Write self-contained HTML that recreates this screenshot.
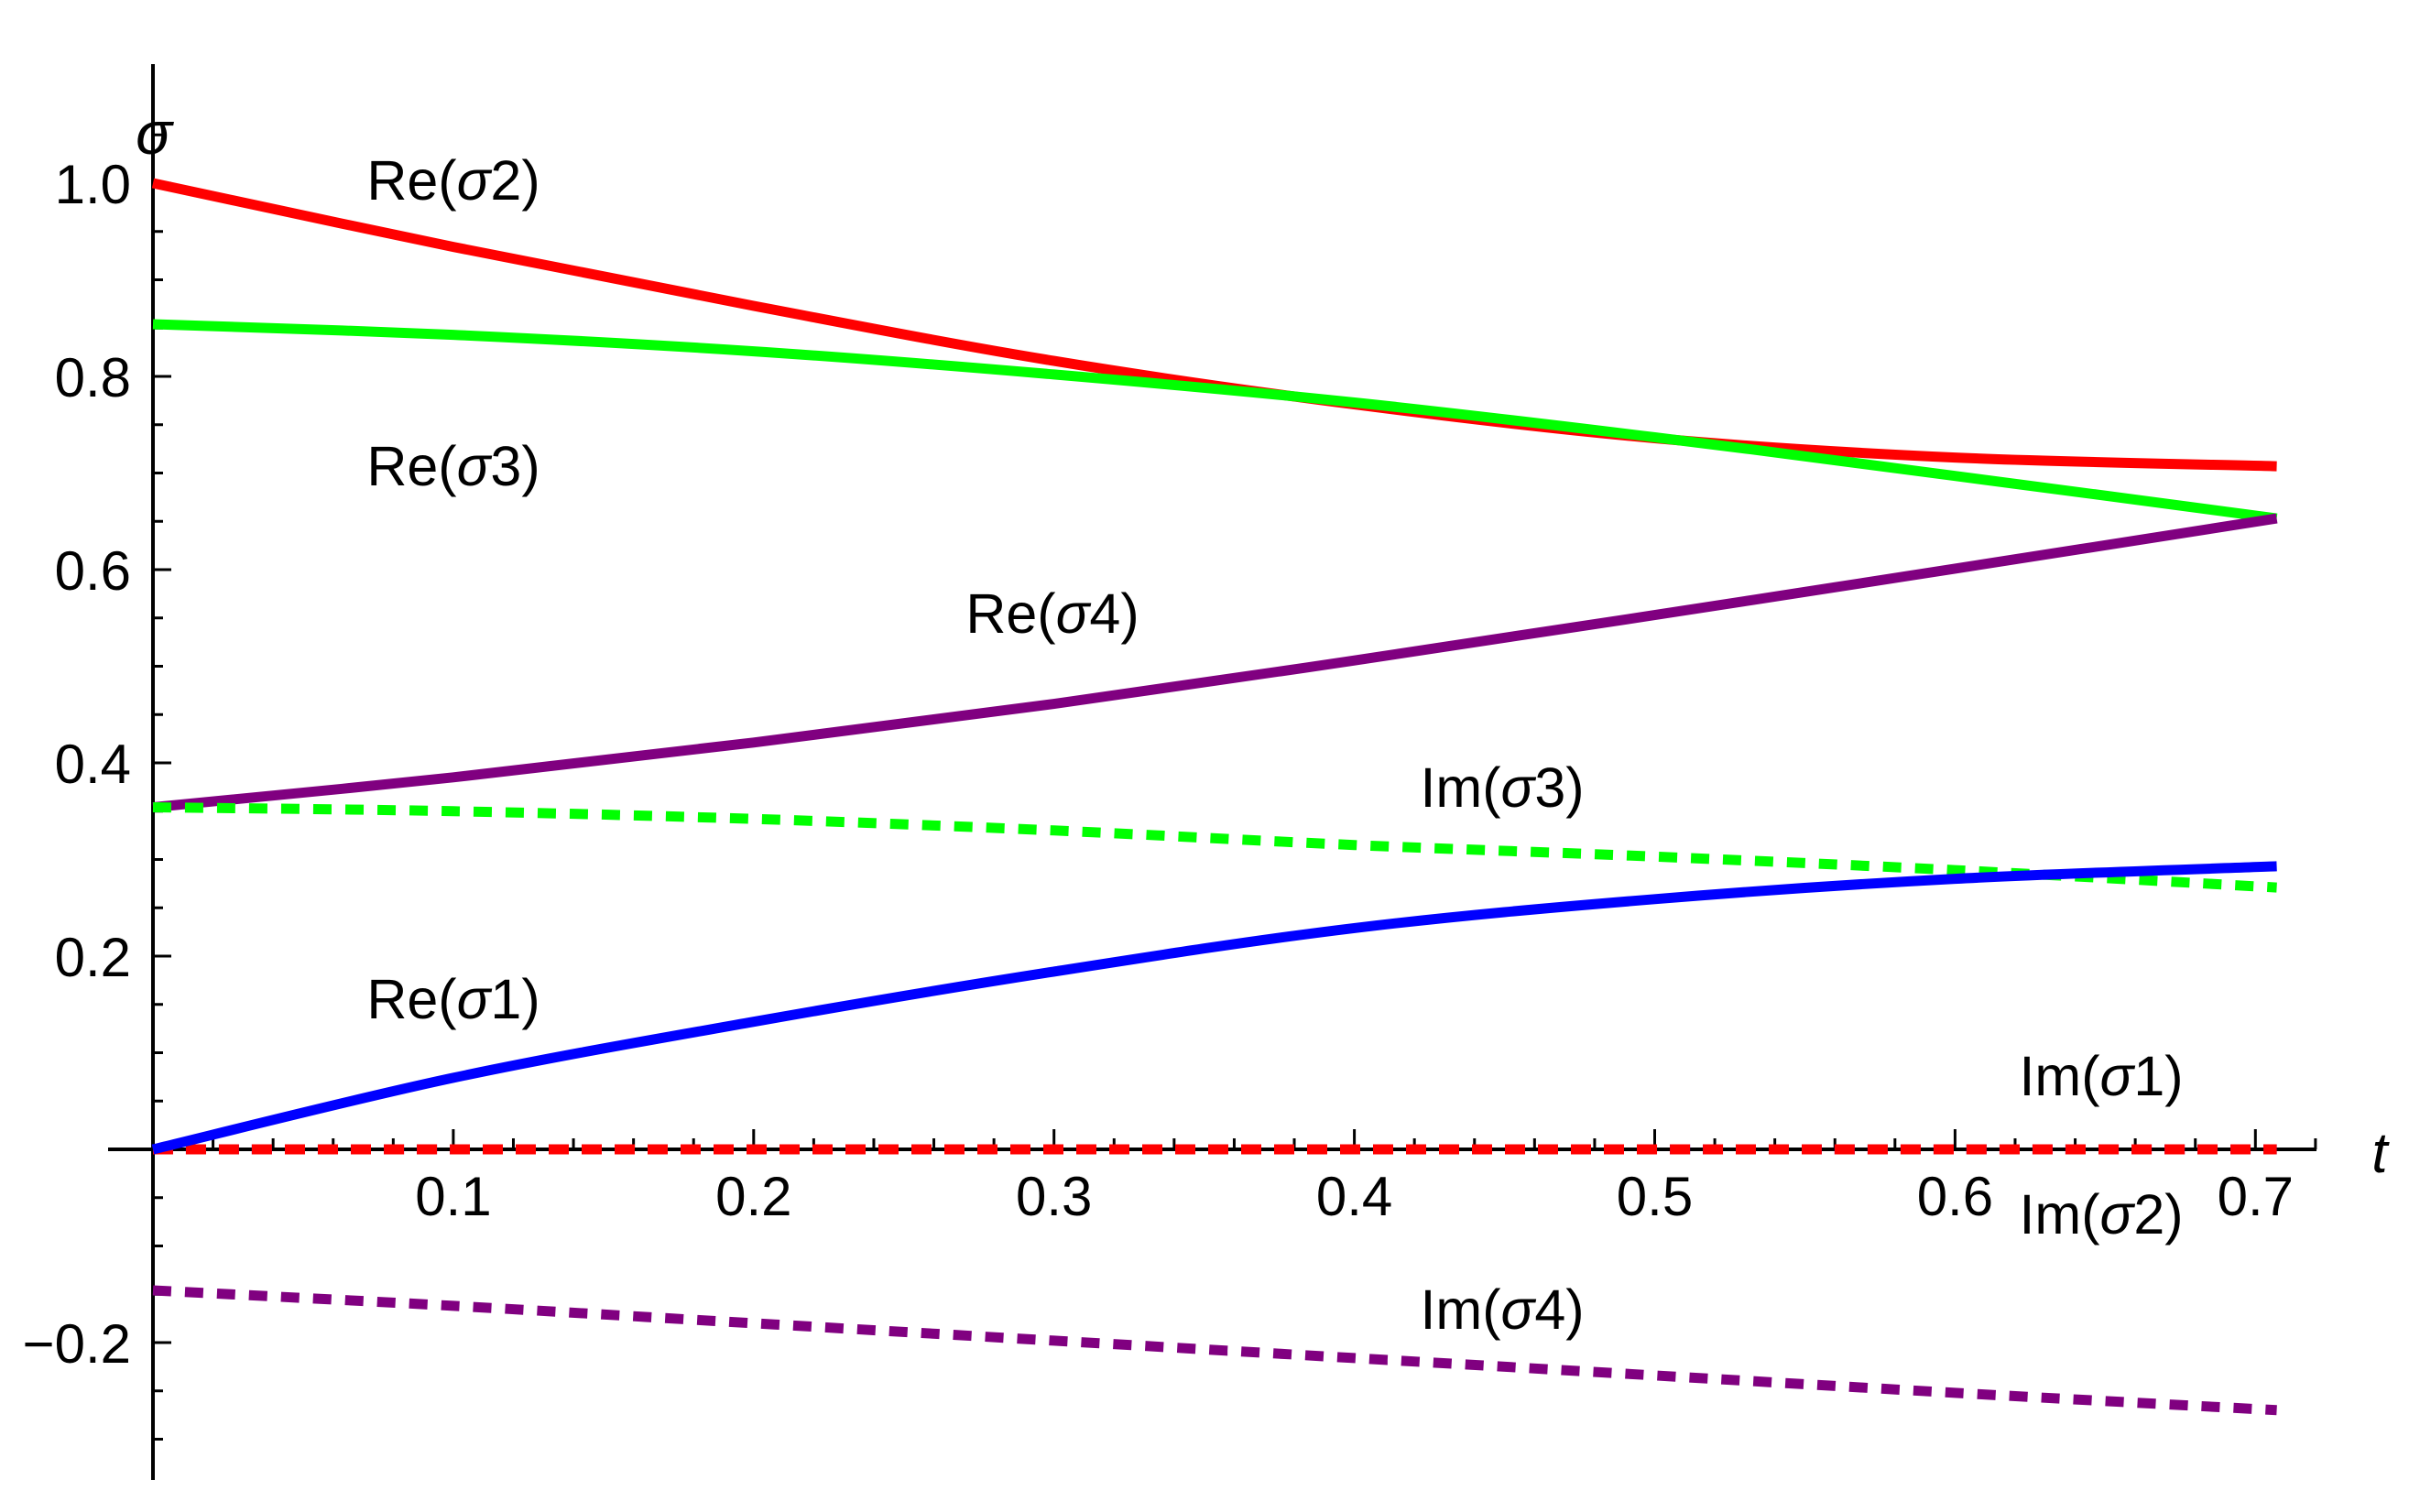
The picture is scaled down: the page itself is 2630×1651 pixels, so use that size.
<!DOCTYPE html>
<html><head><meta charset="utf-8"><style>
body{margin:0;background:#fff}
svg{display:block}
text{font-family:"Liberation Sans",sans-serif;fill:#000}
</style></head><body>
<svg id="chart" width="2630" height="1651" viewBox="0 0 2630 1651" xmlns="http://www.w3.org/2000/svg">
<g id="axes"></g>
<g id="series"></g>
<g id="labels"></g>
</svg>
<script>
const tVals = [0, 0.1, 0.2, 0.3, 0.4, 0.5, 0.6, 0.7071];
const reSigma1 = [0, 0.074, 0.132, 0.184, 0.229, 0.259, 0.280, 0.293];
const reSigma2 = [1.0, 0.934, 0.873, 0.816, 0.771, 0.736, 0.716, 0.707];
const reSigma3 = [0.854, 0.843, 0.826, 0.802, 0.773, 0.737, 0.697, 0.653];
const reSigma4 = [0.354, 0.385, 0.421, 0.461, 0.506, 0.553, 0.601, 0.653];
const imSigma1 = [0, 0, 0, 0, 0, 0, 0, 0];
const imSigma2 = [0, 0, 0, 0, 0, 0, 0, 0];
const imSigma3 = [0.354, 0.350, 0.342, 0.330, 0.315, 0.303, 0.289, 0.271];
const imSigma4 = [-0.146, -0.162, -0.180, -0.198, -0.216, -0.234, -0.252, -0.270];
const xTickLabels = ["0.1","0.2","0.3","0.4","0.5","0.6","0.7"];
const yTickLabels = ["-0.2","0.2","0.4","0.6","0.8","1.0"];

const NS = "http://www.w3.org/2000/svg";
function X(t){return 167 + 3279*t;}
function Y(v){return 1255 - 1055*v;}
function mk(tag, attrs, parent){const e=document.createElementNS(NS,tag);for(const k in attrs)e.setAttribute(k,attrs[k]);parent.appendChild(e);return e;}
const axes=document.getElementById('axes'), series=document.getElementById('series'), labels=document.getElementById('labels');

let xa=mk('line',{x1:118,y1:Y(0),x2:2529,y2:Y(0),stroke:'#000','stroke-width':4},axes);


let ya=mk('line',{x1:X(0),y1:70,x2:X(0),y2:1616,stroke:'#000','stroke-width':4},axes);



for(let i=1;i<=36;i++){
  const t=i*0.02; const major=(i%5===0); const x=X(t);
  const tk=mk('line',{x1:x,y1:Y(0),x2:x,y2:Y(0)-(major?22:12),stroke:'#000','stroke-width':3},axes);
  
  
}
xTickLabels.forEach(s=>{
  const v=parseFloat(s);
  const tx=mk('text',{x:X(v),y:1327,'font-size':60,'text-anchor':'middle'},axes);
  tx.textContent=s;
  
  
});
for(let i=-6;i<=21;i++){
  const v=i*0.05; if(i===0)continue; const major=(i%4===0); const y=Y(v);
  const tk=mk('line',{x1:X(0),y1:y,x2:X(0)+(major?20:11),y2:y,stroke:'#000','stroke-width':3},axes);
  
  
}
yTickLabels.forEach(s=>{
  const v=parseFloat(s);
  const tx=mk('text',{x:143,y:Y(v)+22,'font-size':60,'text-anchor':'end'},axes);
  tx.textContent=s.replace('-','\u2212');
  
  
});
let ax=mk('text',{x:168,y:168,'font-size':66,'font-style':'italic','font-family':'Liberation Serif, serif','text-anchor':'middle'},axes);
ax.textContent='σ';


let at=mk('text',{x:2598,y:1280,'font-size':62,'font-style':'italic','text-anchor':'middle'},axes);
at.textContent='t';



function curve(vals,color,dash,name){
  const P=vals.map((v,i)=>[X(tVals[i]),Y(v)]);
  let d='M'+P[0][0].toFixed(1)+' '+P[0][1].toFixed(1);
  for(let i=0;i<P.length-1;i++){
    const p0=P[Math.max(i-1,0)],p1=P[i],p2=P[i+1],p3=P[Math.min(i+2,P.length-1)];
    const c1=[p1[0]+(p2[0]-p0[0])/6,p1[1]+(p2[1]-p0[1])/6];
    const c2=[p2[0]-(p3[0]-p1[0])/6,p2[1]-(p3[1]-p1[1])/6];
    d+=' C'+c1[0].toFixed(1)+' '+c1[1].toFixed(1)+' '+c2[0].toFixed(1)+' '+c2[1].toFixed(1)+' '+p2[0].toFixed(1)+' '+p2[1].toFixed(1);
  }
  const p=mk('path',{d:d,fill:'none',stroke:color,'stroke-width':11,'stroke-linejoin':'round'},series);
  if(dash)p.setAttribute('stroke-dasharray',dash);
  
  
}
curve(imSigma1,'#0000ff','22 14','im-sigma1-line');
curve(imSigma2,'#ff0000','22 14','im-sigma2-line');
curve(reSigma2,'#ff0000',null,'re-sigma2-line');
curve(reSigma3,'#00ff00',null,'re-sigma3-line');
curve(reSigma4,'#800080',null,'re-sigma4-line');
curve(imSigma3,'#00ff00','20 15','im-sigma3-line');
curve(reSigma1,'#0000ff',null,'re-sigma1-line');
curve(imSigma4,'#800080','20 15','im-sigma4-line');

const labelNames=["Re","Re","Re","Im","Re","Im","Im","Im"];
const labelNums=["2","3","4","3","1","1","2","4"];
const labelPos=[[495,196],[495,508],[1149,669],[1640,859],[495,1090],[2294,1174],[2294,1325],[1640,1429]];
labelNames.forEach((n,i)=>{
  const tx=mk('text',{x:labelPos[i][0],y:labelPos[i][1]+22,'font-size':61,'text-anchor':'middle'},labels);
  tx.innerHTML=n+'(<tspan font-style="italic">σ</tspan>'+labelNums[i]+')';
  
  
});
</script>
</body></html>
